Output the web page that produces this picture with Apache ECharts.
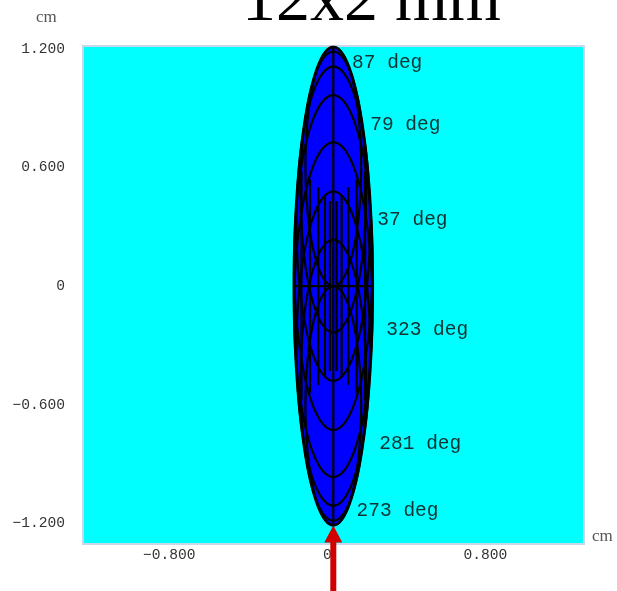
<!DOCTYPE html>
<html><head><meta charset="utf-8">
<script src="https://cdn.jsdelivr.net/npm/echarts@6/dist/echarts.min.js"></script>
<style>html,body{margin:0;padding:0;background:#fff}#c{width:617px;height:591px}</style>
</head><body><div id="c"></div>
<script>
// ---- data (cm) ----
const titleText = '12x2 mm';
const xTicks = [-0.8, 0, 0.8];
const yTicks = [-1.2, -0.6, 0, 0.6, 1.2];
const xRange = [-1.267, 1.269];
const yRange = [-1.305, 1.215];
// outline of the source: [centerX, centerY, halfWidth, halfHeight]
const outline = [[0, 0, 0.2, 1.21]];
// inner elliptical arcs: top apex, bottom apex, half width
const arcTop = [1.21, 1.187, 1.111, 0.966, 0.728, 0.479, 0.235, 0];
const arcBottom = [0, -0.235, -0.479, -0.728, -0.966, -1.111, -1.187, -1.21];
const arcHalfWidth = [0.141, 0.166, 0.186, 0.198, 0.198, 0.186, 0.166, 0.141];
// vertical chords: x position and half length
const chordX = [-0.161, -0.118, -0.076, -0.042, -0.017, 0, 0.017, 0.042, 0.076, 0.118, 0.161];
const chordHalfLen = [0.58, 0.54, 0.50, 0.46, 0.43, 1.21, 0.43, 0.46, 0.50, 0.54, 0.58];
// horizontal chord
const equatorY = [0];
// angle labels
const angleLabels = ['87 deg', '79 deg', '37 deg', '323 deg', '281 deg', '273 deg'];
const angleLabelX = [0.095, 0.187, 0.223, 0.268, 0.233, 0.118];
const angleLabelY = [1.131, 0.816, 0.333, -0.221, -0.797, -1.138];
// red arrow (tail, tip)
const arrowTail = [0, -1.62];
const arrowTip = [0, -1.212];

const O = outline[0];
function halfSpanY(x) { const r = 1 - Math.pow((x - O[0]) / O[2], 2); return r > 0 ? O[3] * Math.sqrt(r) : 0; }
function halfSpanX(y) { const r = 1 - Math.pow((y - O[1]) / O[3], 2); return r > 0 ? O[2] * Math.sqrt(r) : 0; }
function ellipsePts(api, cx, cy, hw, hh) {
  const pts = [];
  const n = 240;
  for (let i = 0; i < n; i++) {
    const t = 2 * Math.PI * i / n;
    pts.push(api.coord([cx + hw * Math.cos(t), cy + hh * Math.sin(t)]));
  }
  return pts;
}
const fmt = v => v === 0 ? '0' : (v < 0 ? '\u2212' : '') + Math.abs(v).toFixed(3);

const chart = echarts.init(document.getElementById('c'), null, {renderer: 'canvas'});
chart.setOption({
  animation: false,
  backgroundColor: '#ffffff',
  title: {
    text: titleText, left: 237, top: -37,
    textStyle: {fontFamily: 'Liberation Serif', fontSize: 68, fontWeight: 'normal', color: '#000'}
  },
  grid: {left: 83, top: 46, width: 501, height: 498, show: true, backgroundColor: '#00ffff', borderColor: '#c8d8e8', borderWidth: 2},
  graphic: [
    {type: 'text', left: 36, top: 9, style: {text: 'cm', font: '17px "Liberation Serif"', fill: '#555'}},
    {type: 'text', left: 592, top: 528, style: {text: 'cm', font: '17px "Liberation Serif"', fill: '#555'}}
  ],
  xAxis: {
    type: 'value', min: xRange[0], max: xRange[1],
    axisLine: {show: false}, axisTick: {show: false}, splitLine: {show: false},
    axisLabel: {customValues: xTicks, formatter: fmt, margin: 4, padding: [0, 12, 0, 0], fontFamily: 'Liberation Mono', fontSize: 14.6, color: '#333'}
  },
  yAxis: {
    type: 'value', min: yRange[0], max: yRange[1],
    axisLine: {show: false}, axisTick: {show: false}, splitLine: {show: false},
    axisLabel: {customValues: yTicks, formatter: fmt, margin: 18, fontFamily: 'Liberation Mono', fontSize: 14.6, color: '#333'}
  },
  series: [
    { // filled outline
      type: 'custom', coordinateSystem: 'cartesian2d', data: outline,
      renderItem: (p, api) => ({type: 'polygon', shape: {points: ellipsePts(api, api.value(0), api.value(1), api.value(2), api.value(3))}, style: {fill: '#0000ff'}})
    },
    { // vertical chords
      type: 'custom', coordinateSystem: 'cartesian2d', data: chordX.map((x, i) => [x, chordHalfLen[i]]),
      renderItem: (p, api) => {
        const x = api.value(0), h = Math.min(halfSpanY(x), api.value(1));
        const a = api.coord([x, -h]), b = api.coord([x, h]);
        return {type: 'line', shape: {x1: a[0], y1: a[1], x2: b[0], y2: b[1]}, style: {stroke: '#000', lineWidth: 2.2}};
      }
    },
    { // horizontal chord
      type: 'custom', coordinateSystem: 'cartesian2d', data: equatorY.map(y => [0, y]),
      renderItem: (p, api) => {
        const y = api.value(1), w = halfSpanX(y);
        const a = api.coord([-w, y]), b = api.coord([w, y]);
        return {type: 'line', shape: {x1: a[0], y1: a[1], x2: b[0], y2: b[1]}, style: {stroke: '#000', lineWidth: 2.2}};
      }
    },
    { // elliptical arcs
      type: 'custom', coordinateSystem: 'cartesian2d',
      data: arcTop.map((t, i) => [0, (t + arcBottom[i]) / 2, arcHalfWidth[i], (t - arcBottom[i]) / 2]),
      renderItem: (p, api) => ({type: 'polygon', shape: {points: ellipsePts(api, api.value(0), api.value(1), api.value(2), api.value(3))}, style: {fill: 'none', stroke: '#000', lineWidth: 2.2}})
    },
    { // outline stroke
      type: 'custom', coordinateSystem: 'cartesian2d', data: outline,
      renderItem: (p, api) => ({type: 'polygon', shape: {points: ellipsePts(api, api.value(0), api.value(1), api.value(2), api.value(3))}, style: {fill: 'none', stroke: '#000', lineWidth: 2.5}})
    },
    { // angle labels
      type: 'custom', coordinateSystem: 'cartesian2d',
      data: angleLabels.map((s, i) => [angleLabelX[i], angleLabelY[i], s]),
      renderItem: (p, api) => {
        const c = api.coord([api.value(0), api.value(1)]);
        return {type: 'text', x: c[0], y: c[1], style: {text: angleLabels[p.dataIndex], font: '19.5px "Liberation Mono"', fill: '#113333', align: 'left', verticalAlign: 'middle'}};
      }
    },
    { // red arrow
      type: 'custom', coordinateSystem: 'cartesian2d', clip: false,
      data: [[arrowTail[0], arrowTail[1], arrowTip[0], arrowTip[1]]],
      renderItem: (p, api) => {
        const a = api.coord([api.value(0), api.value(1)]), b = api.coord([api.value(2), api.value(3)]);
        const headLen = 17, headHalf = 9, shaftHalf = 3;
        return {type: 'group', children: [
          {type: 'rect', shape: {x: b[0] - shaftHalf, y: b[1] + headLen - 1, width: shaftHalf * 2, height: a[1] - b[1] - headLen + 1}, style: {fill: '#d00000'}},
          {type: 'polygon', shape: {points: [[b[0], b[1]], [b[0] - headHalf, b[1] + headLen], [b[0] + headHalf, b[1] + headLen]]}, style: {fill: '#d00000'}}
        ]};
      }
    }
  ]
});
</script>
</body></html>
